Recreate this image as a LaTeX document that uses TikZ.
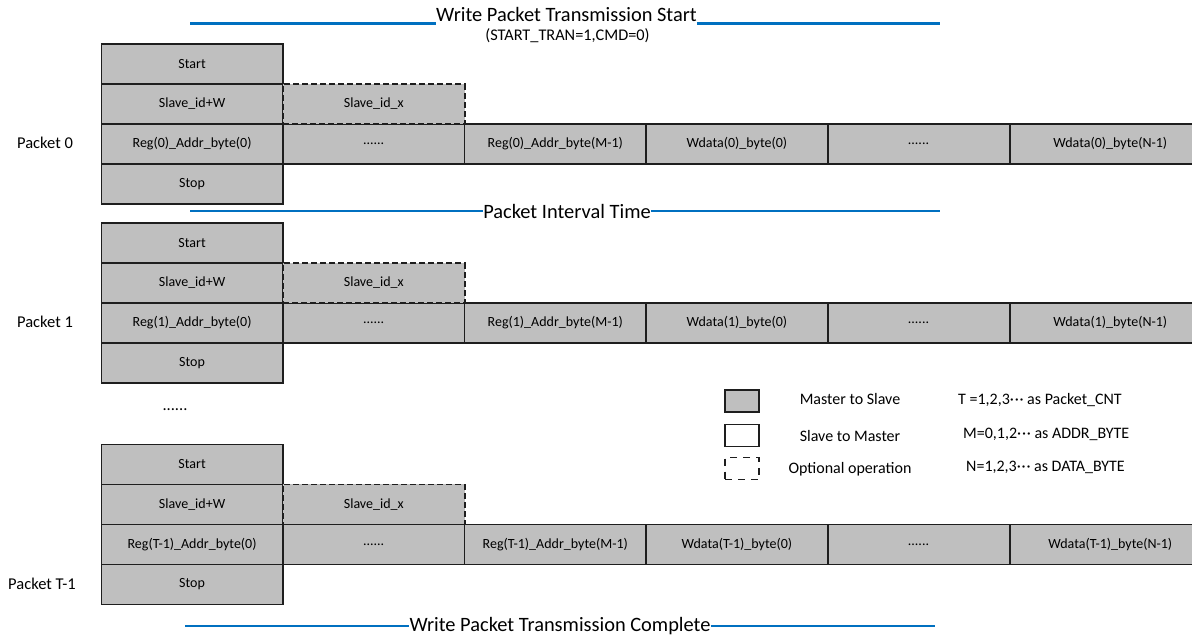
\documentclass[tikz,border=0pt]{standalone}
\usepackage{fontspec}
\setmainfont{Carlito}
\definecolor{cellgray}{RGB}{191,191,191}
\definecolor{lineblue}{RGB}{0,112,192}
\definecolor{edge}{RGB}{30,30,30}
\newcommand{\mdots}{·\kern0.8pt·\kern0.8pt·}
\begin{document}
\begin{tikzpicture}[x=1pt,y=-1pt,
  cell/.style={draw=edge, line width=1.6pt, fill=cellgray, minimum width=181.6pt,
    minimum height=40pt, inner sep=0pt, anchor=north west, font=\fontsize{14}{16}\selectfont},
  lastcell/.style={cell, minimum width=200pt, text width=181.6pt, align=center},
  optcell/.style={cell, line width=1.8pt, dash pattern=on 6pt off 3pt},
  legbox/.style={draw=edge, line width=1.4pt, minimum width=34pt, minimum height=22pt, inner sep=0pt},
  legtext/.style={font=\fontsize{16}{19}\selectfont, inner sep=0pt},
  plabel/.style={font=\fontsize{16.5}{19}\selectfont, inner sep=0pt},
  headtext/.style={font=\fontsize{20.4}{24}\selectfont, inner sep=0pt},
  blue line/.style={draw=lineblue, line width=2.8pt}
]
\useasboundingbox (0,0) rectangle (1192,641);

\foreach \k/\yy/\lab in {0/43/0,1/222/1,2/443.5/T-1} {
  \node[cell] (start\k) at (100.5,\yy) {Start};
  \node[cell] (slw\k) at (100.5,\yy+40) {Slave\_id+W};
  \node[cell] (r\k a) at (100.5,\yy+80) {Reg(\lab)\_Addr\_byte(0)};
  \node[cell] (r\k b) at (282.1,\yy+80) {......};
  \node[cell] (r\k c) at (463.7,\yy+80) {Reg(\lab)\_Addr\_byte(M-1)};
  \node[cell] (r\k d) at (645.3,\yy+80) {Wdata(\lab)\_byte(0)};
  \node[cell] (r\k e) at (826.9,\yy+80) {......};
  \node[lastcell] (r\k f) at (1009.5,\yy+80) {Wdata(\lab)\_byte(N-1)};
  \node[cell] (stop\k) at (100.5,\yy+120) {Stop};
  \node[optcell] (slx\k) at (282.1,\yy+40) {Slave\_id\_x};
}

\node[plabel] (pl0) at (45,143) {Packet 0};
\node[plabel] (pl1) at (45,322) {Packet 1};
\node[plabel] (pl2) at (42,584) {Packet T-1};
\node[plabel] (vdots) at (175,410) {......};

% header lines
\node[headtext, anchor=base] (title) at (566.5,21) {Write Packet Transmission Start};
\node[font=\fontsize{16.3}{19}\selectfont, inner sep=0pt] (sub) at (567.5,36) {(START\_TRAN=1,CMD=0)};
\coordinate (t1) at (190,23.5);
\coordinate (t2) at (940,23.5);
\draw[blue line] (t1) -- (title.west |- t1);
\draw[blue line] (title.east |- t2) -- (t2);

\node[headtext] (interval) at (567,211) {Packet Interval Time};
\coordinate (i1) at (190,211);
\coordinate (i2) at (940,211);
\draw[blue line] (i1) -- (interval.west |- i1);
\draw[blue line] (interval.east |- i2) -- (i2);

\node[headtext] (complete) at (560,626) {Write Packet Transmission Complete};
\coordinate (c1) at (185,626);
\coordinate (c2) at (935,626);
\draw[blue line] (c1) -- (complete.west |- c1);
\draw[blue line] (complete.east |- c2) -- (c2);

% legend
\node[legbox, fill=cellgray] (lg1) at (742,401) {};
\node[legbox, fill=white] (lg2) at (742,435.3) {};
\node[legbox, dash pattern=on 7pt off 6pt] (lg3) at (742,468.5) {};
\node[legtext] (lt1) at (850,399) {Master to Slave};
\node[legtext] (lt2) at (850,436) {Slave to Master};
\node[legtext] (lt3) at (850,469) {Optional operation};
\node[legtext, anchor=west] (ln1) at (958,400) {T =1,2,3\mdots{} as Packet\_CNT};
\node[legtext, anchor=west] (ln2) at (963,434.5) {M=0,1,2\mdots{} as ADDR\_BYTE};
\node[legtext, anchor=west] (ln3) at (966,467.5) {N=1,2,3\mdots{} as DATA\_BYTE};
\end{tikzpicture}
\end{document}
